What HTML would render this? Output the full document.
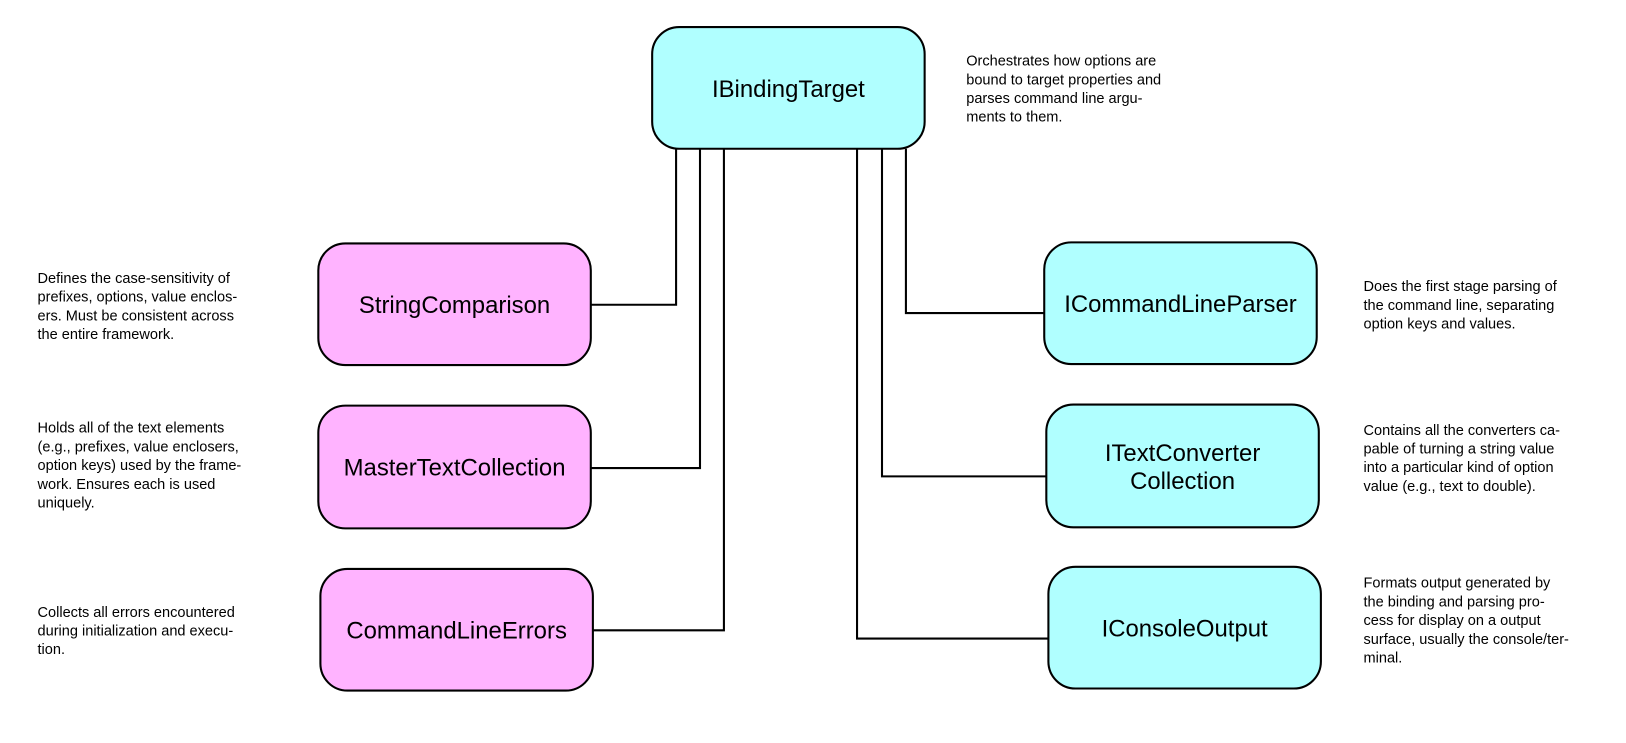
<!DOCTYPE html>
<html><head><meta charset="utf-8"><style>
body{margin:0;background:#fff;width:1626px;height:738px;overflow:hidden}
svg text{font-family:"Liberation Sans","DejaVu Sans",sans-serif}
.b{font-size:23px;fill:#000}
.n{font-size:14px;fill:#000}
</style></head><body>
<svg width="1626" height="738" xmlns="http://www.w3.org/2000/svg">
<g transform="translate(-2,-1) scale(1.04)">
<g stroke="#000" stroke-width="2" fill="none">
<polyline points="652,144 652,294 570,294"/>
<polyline points="675,144 675,451 570,451"/>
<polyline points="698,144 698,607 572,607"/>
<polyline points="826,144 826,615 1010,615"/>
<polyline points="850,144 850,459 1008,459"/>
<polyline points="873,144 873,302 1006,302"/>
</g>
<g stroke="#000" stroke-width="2">
<rect x="629" y="27" width="262" height="117" rx="26" fill="#b0ffff"/>
<rect x="308" y="235" width="262" height="117" rx="26" fill="#ffb3ff"/>
<rect x="308" y="391" width="262" height="118" rx="26" fill="#ffb3ff"/>
<rect x="310" y="548" width="262" height="117" rx="26" fill="#ffb3ff"/>
<rect x="1006" y="234" width="262" height="117" rx="26" fill="#b0ffff"/>
<rect x="1008" y="390" width="262" height="118" rx="26" fill="#b0ffff"/>
<rect x="1010" y="546" width="262" height="117" rx="26" fill="#b0ffff"/>
</g>
<g class="b" text-anchor="middle">
<text x="760" y="94">IBindingTarget</text>
<text x="439" y="302">StringComparison</text>
<text x="439" y="458">MasterTextCollection</text>
<text x="441" y="615">CommandLineErrors</text>
<text x="1137" y="301">ICommandLineParser</text>
<text x="1139" y="444">ITextConverter</text>
<text x="1139" y="471">Collection</text>
<text x="1141" y="613">IConsoleOutput</text>
</g>
<g class="n">
<text x="931" y="64">Orchestrates how options are</text>
<text x="931" y="82">bound to target properties and</text>
<text x="931" y="100">parses command line argu-</text>
<text x="931" y="118">ments to them.</text>
<text x="38" y="273">Defines the case-sensitivity of</text>
<text x="38" y="291">prefixes, options, value enclos-</text>
<text x="38" y="309">ers. Must be consistent across</text>
<text x="38" y="327">the entire framework.</text>
<text x="38" y="417">Holds all of the text elements</text>
<text x="38" y="435">(e.g., prefixes, value enclosers,</text>
<text x="38" y="453">option keys) used by the frame-</text>
<text x="38" y="471">work. Ensures each is used</text>
<text x="38" y="489">uniquely.</text>
<text x="38" y="594">Collects all errors encountered</text>
<text x="38" y="612">during initialization and execu-</text>
<text x="38" y="630">tion.</text>
<text x="1313" y="281">Does the first stage parsing of</text>
<text x="1313" y="299">the command line, separating</text>
<text x="1313" y="317">option keys and values.</text>
<text x="1313" y="419">Contains all the converters ca-</text>
<text x="1313" y="437">pable of turning a string value</text>
<text x="1313" y="455">into a particular kind of option</text>
<text x="1313" y="473">value (e.g., text to double).</text>
<text x="1313" y="566">Formats output generated by</text>
<text x="1313" y="584">the binding and parsing pro-</text>
<text x="1313" y="602">cess for display on a output</text>
<text x="1313" y="620">surface, usually the console/ter-</text>
<text x="1313" y="638">minal.</text>
</g>
</g>
</svg>
</body></html>
